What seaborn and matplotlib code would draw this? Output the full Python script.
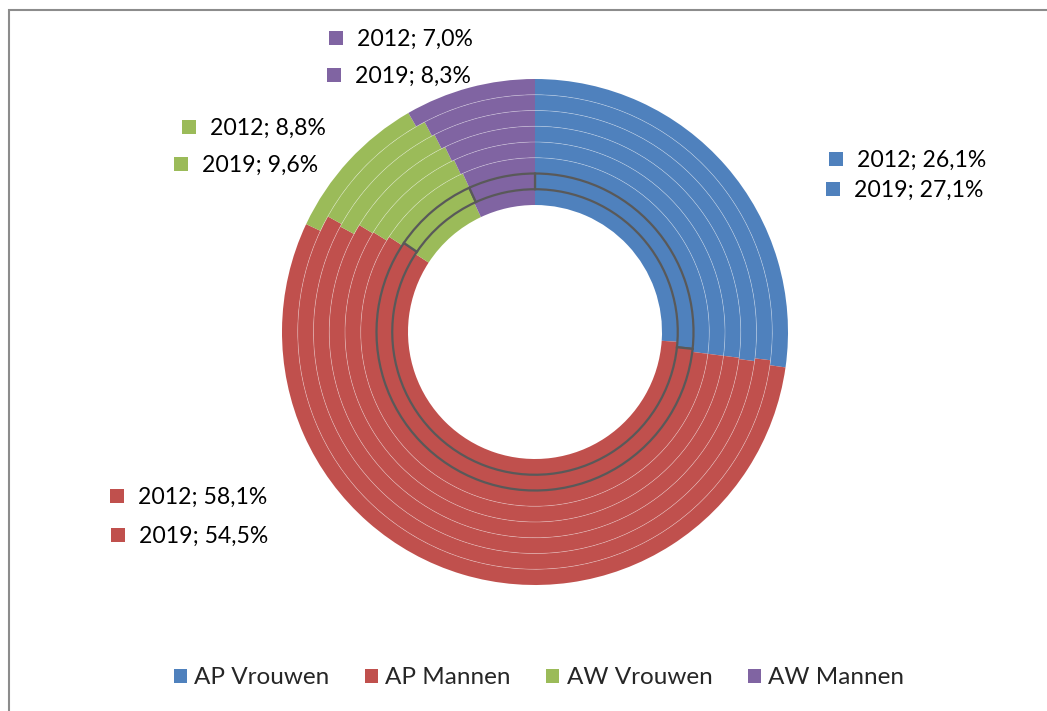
import matplotlib
matplotlib.use('Agg')
import matplotlib.pyplot as plt
from matplotlib.patches import Rectangle, Patch, Circle
import seaborn as sns

# share per year (%), innermost ring = 2012, outermost = 2019
years = [2012, 2013, 2014, 2015, 2016, 2017, 2018, 2019]
ap_vrouwen = [26.1, 26.7, 27.0, 27.0, 27.0, 27.1, 26.9, 27.1]
ap_mannen = [58.1, 57.8, 57.2, 56.8, 56.7, 55.8, 56.2, 54.5]
aw_vrouwen = [8.8, 8.7, 9.0, 9.2, 9.1, 9.6, 9.2, 9.6]
aw_mannen = [7.0, 6.8, 6.8, 7.0, 7.2, 7.5, 7.7, 8.3]
categories = ["AP Vrouwen", "AP Mannen", "AW Vrouwen", "AW Mannen"]

sns.set_theme(style="white")
plt.rcParams['font.family'] = ['Lato', 'DejaVu Sans']
colors = sns.color_palette(["#4F81BD", "#C0504D", "#9BBB59", "#8064A2"])

W, H = 1047, 711
fig = plt.figure(figsize=(W / 100, H / 100), dpi=100)

# pie axes placed in pixel terms: centre (535, 332), outer radius 253
cx, cy, R, R0 = 535, 332, 253, 127
ax = fig.add_axes([(cx - R) / W, (H - cy - R) / H, 2 * R / W, 2 * R / H])
ring_w = (R - R0) / len(years)

series = [ap_vrouwen, ap_mannen, aw_vrouwen, aw_mannen]
for i, yr in enumerate(years):
    vals = [s[i] for s in series]
    outer = (R0 + ring_w * (i + 1)) / R
    wedges, _ = ax.pie(vals, radius=outer, startangle=90, counterclock=False,
                       colors=colors,
                       wedgeprops=dict(width=ring_w / R, linewidth=0))
    # faint separator circles between rings
    if i < len(years) - 1:
        ax.add_patch(Circle((0, 0), outer, fill=False, edgecolor=(1, 1, 1, 0.4),
                            linewidth=0.5, zorder=3))
    if i == 1:
        # second ring is drawn with a dark outline
        for w in wedges:
            w.set_edgecolor("#595959")
            w.set_linewidth(1.6)
            w.set_zorder(4)
ax.set_xlim(-1, 1)
ax.set_ylim(-1, 1)
ax.axis('off')

# data labels for first and last year
label_pos = {
    "AP Vrouwen": [(836, 159), (833, 189)],
    "AP Mannen": [(117, 496), (118, 535)],
    "AW Vrouwen": [(189, 127), (181, 164)],
    "AW Mannen": [(336, 38), (334, 75)],
}
sq = 14
for k, cat in enumerate(categories):
    for j, idx in enumerate([0, len(years) - 1]):
        px, py = label_pos[cat][j]
        fig.patches.append(Rectangle(((px - sq / 2) / W, (H - py - sq / 2) / H),
                                     sq / W, sq / H, transform=fig.transFigure,
                                     facecolor=colors[k], edgecolor='none'))
        txt = f"{years[idx]}; {series[k][idx]:.1f}%".replace('.', ',')
        fig.text((px + 21) / W, (H - py - 1.5) / H, txt, fontsize=16.6,
                 ha='left', va='center', color='black')

# legend at the bottom
handles = [Patch(facecolor=c, edgecolor='none') for c in colors]
fig.legend(handles, categories, loc='center', ncol=4,
           bbox_to_anchor=(539 / W, 1 - 678 / H), frameon=False,
           fontsize=17.5, handlelength=0.55, handleheight=0.55,
           handletextpad=0.3, columnspacing=1.45)

# chart frame (only top and left edges visible)
fig.patches.append(Rectangle((9 / W, -0.1), 1.2, (H - 10) / H + 0.1,
                             transform=fig.transFigure, fill=False,
                             edgecolor='#8c8c8c', linewidth=1.5))

fig.savefig("out.png", dpi=100, facecolor='white')
